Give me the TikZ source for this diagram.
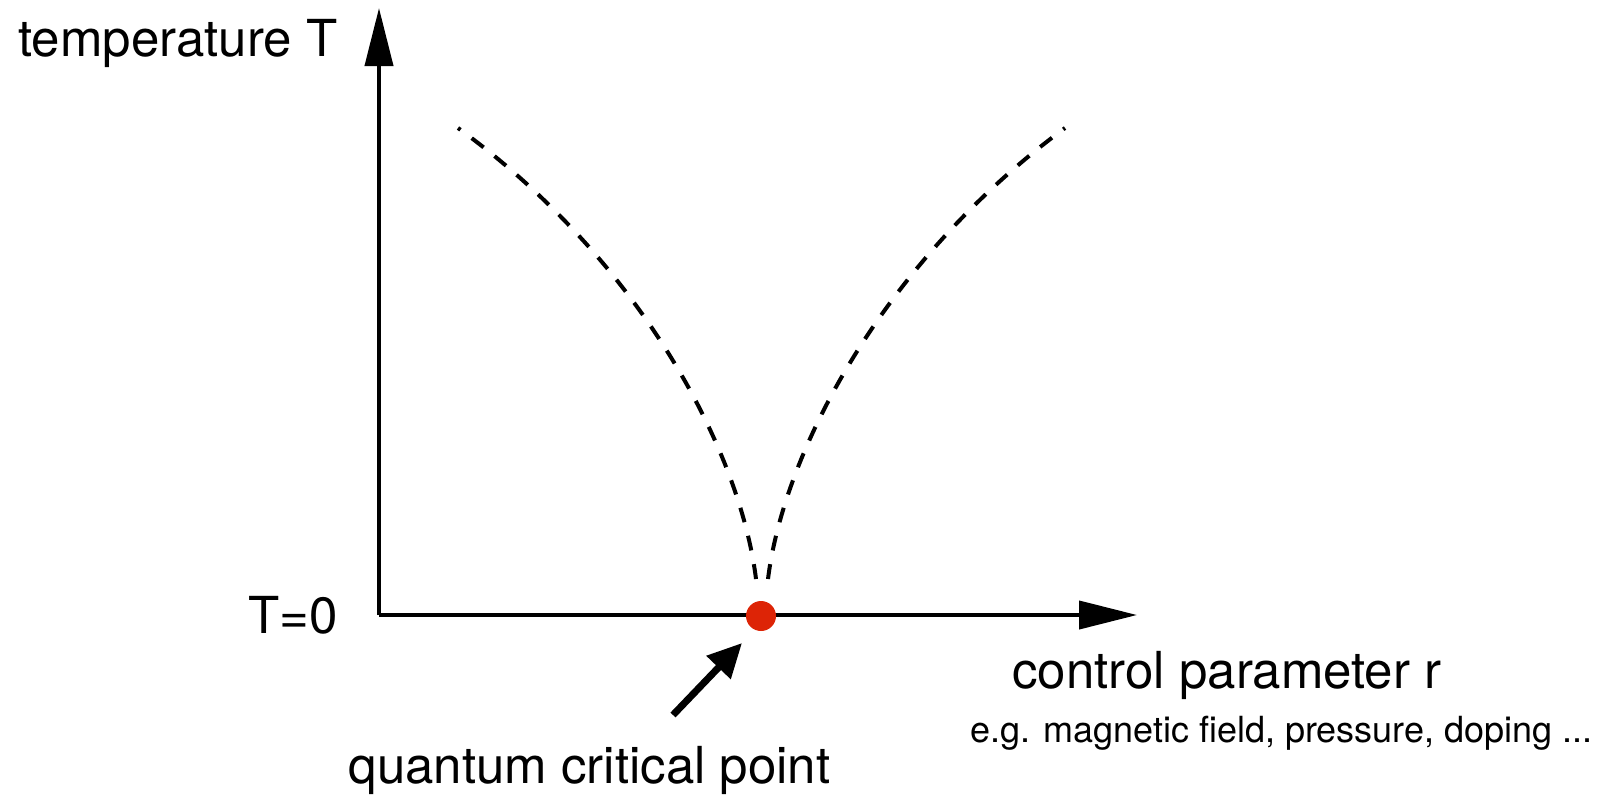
\documentclass[tikz,border=0pt]{standalone}
\usepackage{fontspec}
\setmainfont{TeX Gyre Heros}
\usepackage{xcolor}
\usetikzlibrary{arrows.meta}
\definecolor{qcpred}{RGB}{221,36,6}

\begin{document}
\begin{tikzpicture}[x=0.5pt, y=-0.5pt,
		axis/.style={line width=2pt, -{Triangle[length=29pt,width=14pt]}},
		phaseline/.style={line width=2pt, dash pattern=on 7.5pt off 7pt},
		pointer/.style={line width=3.5pt, -{Triangle[length=17pt,width=16pt]}},
		label/.style={font=\fontsize{25.5}{30}\selectfont, inner sep=0pt},
		smalllabel/.style={font=\fontsize{18}{21}\selectfont, inner sep=0pt}]
	\useasboundingbox (0,0) rectangle (1606,799);

	% axes
	\coordinate (O) at (379,615);
	\coordinate (Ttip) at (379,8);
	\coordinate (rtip) at (1137,615);
	\draw[axis] (O) -- (Ttip);
	\draw[axis] (O) -- (rtip);

	% crossover lines
	\coordinate (lbot) at (756,579);
	\coordinate (ltop) at (458,128);
	\coordinate (rbot) at (768,579);
	\coordinate (rtop) at (1065,128);
	\draw[phaseline] (lbot) .. controls (740,450) and (640,260) .. (ltop);
	\draw[phaseline] (rbot) .. controls (784,450) and (885,260) .. (rtop);

	% quantum critical point
	\node[circle, fill=qcpred, inner sep=0pt, minimum size=15pt] (qcp) at (761,616) {};
	\coordinate (qtail) at (673,715);
	\coordinate (qtip) at (742,643);
	\draw[pointer] (qtail) -- (qtip);

	% labels
	\node[label, anchor=base west] (Tlabel) at (18,56) {temperature T};
	\node[label, anchor=east] (T0) at (338,615) {T=0};
	\node[label, anchor=base west] (rlabel) at (1012,688) {control parameter r};
	\node[smalllabel, anchor=base east] (examples) at (1593,742) {e.g. magnetic field, pressure, doping ...};
	\node[label, anchor=base west] (qcplabel) at (348,783) {quantum critical point};
\end{tikzpicture}
\end{document}
